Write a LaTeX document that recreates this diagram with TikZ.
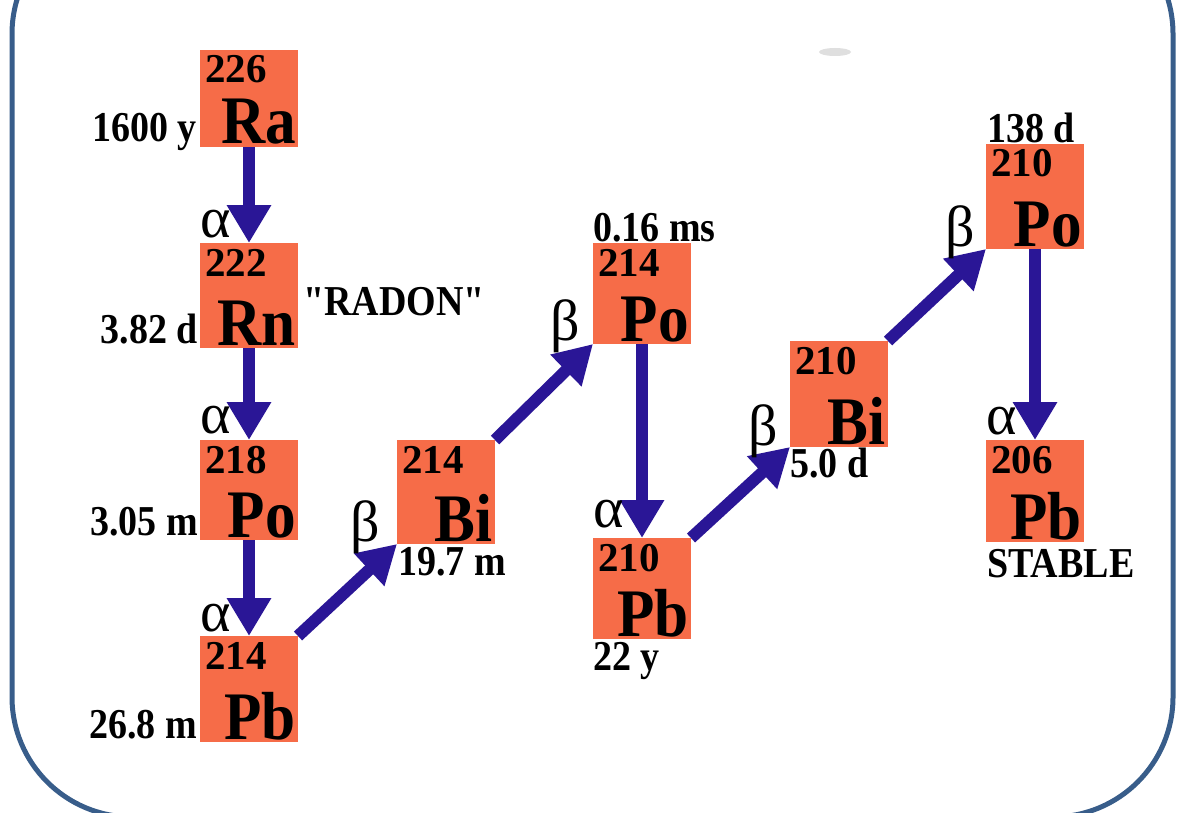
\documentclass[tikz,border=0pt]{standalone}
\usepackage{graphicx}
\usepackage{fontspec}
\setmainfont{Liberation Serif}
\usetikzlibrary{arrows.meta,calc}
\pgfdeclarelayer{background}
\pgfsetlayers{background,main}
\definecolor{boxorange}{RGB}{246,108,72}
\definecolor{decayblue}{RGB}{42,22,150}
\definecolor{framecol}{RGB}{56,93,138}
\font\rawquotefont="Liberation Serif/B" at 38pt
\tikzset{
  nucbox/.style={fill=boxorange, draw=none, minimum width=98pt, inner sep=0pt, outer sep=0pt, anchor=north west},
  massnum/.style={font=\fontsize{41}{41}\selectfont\bfseries, anchor=base west, inner sep=0pt},
  elem/.style={font=\fontsize{68}{68}\selectfont\bfseries, anchor=base east, inner sep=0pt},
  halflife/.style={font=\fontsize{38}{38}\selectfont\bfseries, inner sep=0pt},
  greek/.style={font=\fontsize{58}{58}\selectfont, inner sep=0pt},
  decay/.style={draw=decayblue, line width=12pt, -{Triangle[length=38pt,width=42pt]}},
}
\newcommand\hlt[1]{\scalebox{1}[1.12]{#1}}
\newcommand\sq{{\rawquotefont\char34}}
\newcommand\nuc[6]{%
  \node[nucbox, minimum height=#4pt] (#1) at (#2,#3) {};
  \node[massnum] (#1-A) at ($(#1.north west)+(5,33)$) {#5};
  \node[elem] (#1-S) at ($(#1.south east)+(-2,-3)$) {\scalebox{0.9}[1]{#6}};
}
\begin{document}
\begin{tikzpicture}[x=1pt,y=-1pt]
\useasboundingbox (0,0) rectangle (1185,813);
\clip (0,0) rectangle (1185,813);
\draw[framecol, line width=5pt, rounded corners=120pt] (12,-86) rectangle (1173,817);
\fill[gray!25] (835,52) ellipse [x radius=16pt, y radius=4pt];

\nuc{Ra}{200}{50}{97}{226}{Ra}
\nuc{Rn}{200}{243}{105}{222}{Rn}
\nuc{PoA}{200}{440}{100}{218}{Po}
\nuc{PbA}{200}{636}{106}{214}{Pb}
\nuc{BiA}{397}{440}{104}{214}{Bi}
\nuc{PoB}{593}{243}{101}{214}{Po}
\nuc{PbB}{593}{538}{101}{210}{Pb}
\nuc{BiB}{790}{341}{106}{210}{Bi}
\nuc{PoC}{986}{144}{105}{210}{Po}
\nuc{PbC}{986}{440}{102}{206}{Pb}

\begin{pgfonlayer}{background}
\draw[decay] (Ra.south) -- (Rn.north);
\draw[decay] (Rn.south) -- (PoA.north);
\draw[decay] (PoA.south) -- (PbA.north);
\draw[decay] (PbA.north east) -- (BiA.south west);
\draw[decay] (BiA.north east) -- (PoB.south west);
\draw[decay] (PoB.south) -- (PbB.north);
\draw[decay] (PbB.north east) -- (BiB.south west);
\draw[decay] (BiB.north east) -- (PoC.south west);
\draw[decay] (PoC.south) -- (PbC.north);
\end{pgfonlayer}

\node[greek, anchor=base west] (al1) at ($(Rn.north west)+(0,-6)$) {α};
\node[greek, anchor=base west] (al2) at ($(PoA.north west)+(0,-7)$) {α};
\node[greek, anchor=base west] (al3) at ($(PbA.north west)+(0,-5)$) {α};
\node[greek, anchor=base west] (al4) at ($(PbB.north west)+(0,-11)$) {α};
\node[greek, anchor=base west] (al5) at ($(PbC.north west)+(0,-6)$) {α};
\node[greek, anchor=base east] (be1) at ($(BiA.south west)+(-17,-3)$) {β};
\node[greek, anchor=base east] (be2) at ($(PoB.south west)+(-13,-4)$) {β};
\node[greek, anchor=base east] (be3) at ($(BiB.south west)+(-12,-2)$) {β};
\node[greek, anchor=base east] (be4) at ($(PoC.south west)+(-11,-3)$) {β};

\node[halflife, anchor=base east] (t1) at ($(Ra.south west)+(-3,-5)$) {\hlt{1600 y}};
\node[halflife, anchor=base east] (t2) at ($(Rn.south west)+(-2,-5)$) {\hlt{3.82 d}};
\node[halflife, anchor=base east] (t3) at ($(PoA.south west)+(-2,-5)$) {\hlt{3.05 m}};
\node[halflife, anchor=base east] (t4) at ($(PbA.south west)+(-3,-4)$) {\hlt{26.8 m}};
\node[halflife, anchor=base west] (t5) at ($(BiA.south west)+(1,31)$) {\hlt{19.7 m}};
\node[halflife, anchor=base west] (t6) at ($(PoB.north west)+(0,-2)$) {\hlt{0.16 ms}};
\node[halflife, anchor=base west] (t7) at ($(PbB.south west)+(0,31)$) {\hlt{22 y}};
\node[halflife, anchor=base west] (t8) at ($(BiB.south west)+(0,30)$) {\hlt{5.0 d}};
\node[halflife, anchor=base west] (t9) at ($(PoC.north west)+(1,-1)$) {\hlt{138 d}};
\node[halflife, anchor=base west] (t10) at ($(PbC.south west)+(1,35)$) {\hlt{STABLE}};
\node[halflife, anchor=base west] (rad) at ($(Rn.north east)+(5,72)$) {\hlt{\sq RADON\sq}};
\end{tikzpicture}
\end{document}
